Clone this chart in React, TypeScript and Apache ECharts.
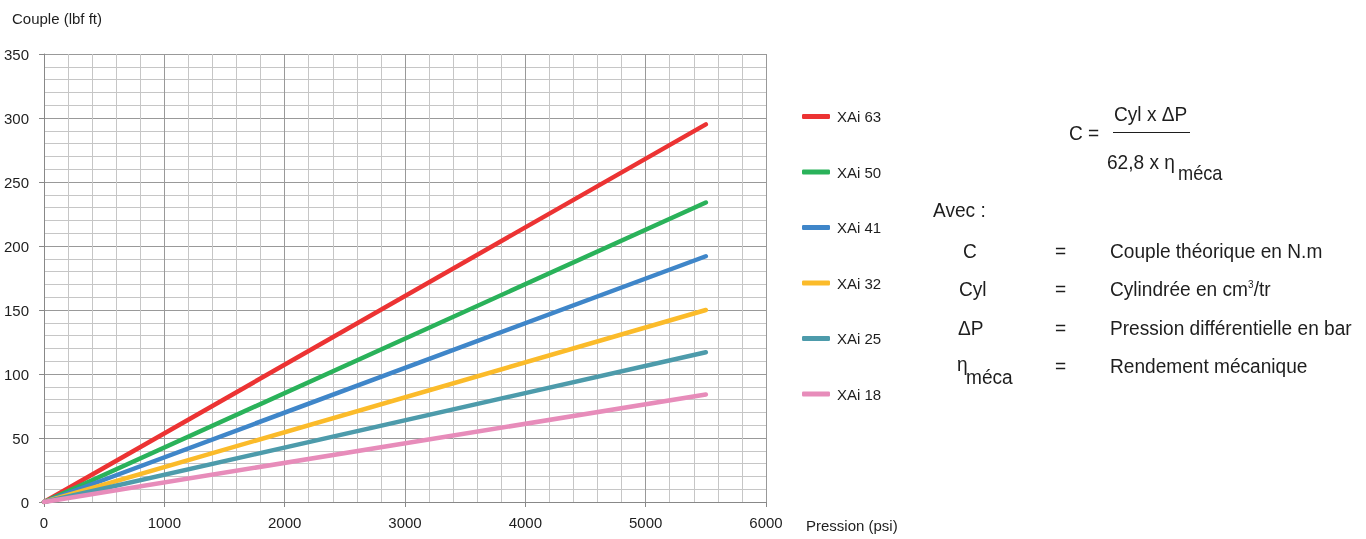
import React, { useEffect, useRef } from "react";
import * as echarts from "echarts";

const seriesNames = ["XAi 63", "XAi 50", "XAi 41", "XAi 32", "XAi 25", "XAi 18"];
const seriesColors = ["#ec3333", "#2ab25a", "#3f86c9", "#fbbb2a", "#4d9bab", "#e78cba"];
const pressureStart = 0;
const pressureEnd = 5500;
const torqueAtEnd = [295, 234, 192, 150, 117, 84];

const FONT = "'Liberation Sans', Arial, sans-serif";
const INK = "#1e1e1e";

export default function App() {
  const ref = useRef<HTMLDivElement>(null);
  useEffect(() => {
    document.body.style.margin = "0";
    const chart = echarts.init(ref.current!, null, { renderer: "svg" });
    const txt = (text: string, x: number, y: number, size = 21, extra: any = {}) => ({
      type: "text",
      x,
      y,
      scaleX: 0.91,
      style: { text, font: `${size}px ${FONT}`, fill: INK, textVerticalAlign: "middle", ...extra },
    });
    const rowsY = [251, 289, 328, 366];
    const option: any = {
      animation: false,
      textStyle: { fontFamily: FONT },
      grid: { left: 44, top: 54, width: 722, height: 448, containLabel: false },
      legend: {
        orient: "vertical",
        left: 797,
        top: 104,
        itemWidth: 28,
        itemHeight: 5,
        itemGap: 40.5,
        icon: "roundRect",
        textStyle: { fontSize: 15, color: INK, fontFamily: FONT, padding: [0, 0, 0, 2] },
        data: seriesNames,
      },
      xAxis: {
        type: "value",
        min: 0,
        max: 6000,
        interval: 1000,
        name: "Pression (psi)",
        nameLocation: "end",
        nameGap: 40,
        nameTextStyle: { fontSize: 15, color: INK, align: "left", verticalAlign: "top", padding: [16, 0, 0, 0] },
        axisLine: { show: true, lineStyle: { color: "#888", width: 1 } },
        axisTick: { show: true, length: 5, lineStyle: { color: "#888" } },
        axisLabel: { fontSize: 15, color: INK, margin: 13, formatter: (v: number) => String(v) },
        splitLine: { show: true, lineStyle: { color: "#999", width: 1 } },
        minorTick: { show: false, splitNumber: 5 },
        minorSplitLine: { show: true, lineStyle: { color: "#c6c6c6", width: 1 } },
      },
      yAxis: {
        type: "value",
        min: 0,
        max: 350,
        interval: 50,
        name: "Couple (lbf ft)",
        nameLocation: "end",
        nameGap: 28.5,
        nameTextStyle: { fontSize: 15, color: INK, align: "left", padding: [0, 0, 0, -32] },
        axisLine: { show: true, lineStyle: { color: "#888", width: 1 } },
        axisTick: { show: true, length: 5, lineStyle: { color: "#888" } },
        axisLabel: { fontSize: 15, color: INK, margin: 15, formatter: (v: number) => String(v) },
        splitLine: { show: true, lineStyle: { color: "#999", width: 1 } },
        minorTick: { show: false, splitNumber: 5 },
        minorSplitLine: { show: true, lineStyle: { color: "#c6c6c6", width: 1 } },
      },
      series: seriesNames.map((name, i) => ({
        name,
        type: "line",
        symbol: "none",
        color: seriesColors[i],
        lineStyle: { width: 4.5, color: seriesColors[i], cap: "round" },
        data: [
          [pressureStart, 0],
          [pressureEnd, torqueAtEnd[i]],
        ],
      })),
      graphic: [
        txt("C =", 1069, 133),
        txt("Cyl x ΔP", 1114, 114),
        { type: "line", shape: { x1: 1113, y1: 132.5, x2: 1190, y2: 132.5 }, style: { stroke: INK, lineWidth: 1.2 } },
        txt("62,8 x η", 1107, 162),
        txt("méca", 1178, 173, 20),
        txt("Avec :", 933, 210),
        txt("C", 963, rowsY[0]),
        txt("=", 1055, rowsY[0]),
        txt("Couple théorique en N.m", 1110, rowsY[0]),
        txt("Cyl", 959, rowsY[1]),
        txt("=", 1055, rowsY[1]),
        {
          type: "text",
          x: 1110,
          y: rowsY[1],
          scaleX: 0.91,
          style: {
            text: "Cylindrée en cm{sup|3}/tr",
            font: `21px ${FONT}`,
            fill: INK,
            textVerticalAlign: "middle",
            rich: { sup: { fontSize: 11, fontFamily: FONT, verticalAlign: "top", padding: [0, 0, 8, 0], fill: INK } },
          },
        },
        txt("ΔP", 958, rowsY[2]),
        txt("=", 1055, rowsY[2]),
        txt("Pression différentielle en bar", 1110, rowsY[2]),
        txt("η", 957, rowsY[3] - 2),
        txt("méca", 966, rowsY[3] + 11),
        txt("=", 1055, rowsY[3]),
        txt("Rendement mécanique", 1110, rowsY[3]),
      ],
    };
    chart.setOption(option);
    return () => chart.dispose();
  }, []);
  return <div ref={ref} style={{ position: "fixed", left: 0, top: 0, width: 1366, height: 539 }} />;
}
